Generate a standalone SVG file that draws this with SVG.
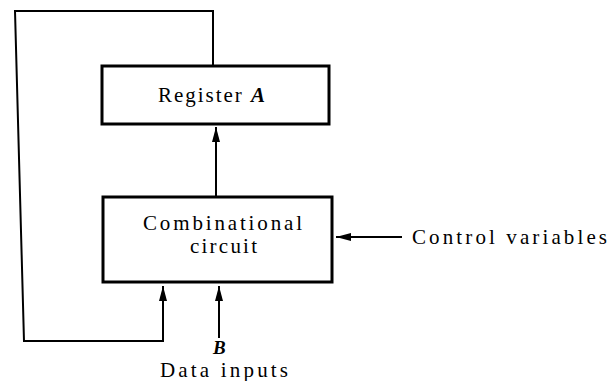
<svg xmlns="http://www.w3.org/2000/svg" width="610" height="381" viewBox="0 0 610 381">
<style>
.box{fill:#fff;stroke:#000;stroke-width:3}
.ln{fill:none;stroke:#000;stroke-width:2}
.t{font-family:"Liberation Serif","Times New Roman",serif;font-size:21px;fill:#000}
.i{font-style:italic;font-weight:bold}
.b{font-size:19px}
</style>
<defs>
<marker id="ah" markerUnits="userSpaceOnUse" markerWidth="16" markerHeight="10" refX="15" refY="4" orient="auto">
<path d="M0,0 L15,4 L0,8 Z" fill="#000"/>
</marker>
</defs>
<rect width="610" height="381" fill="#fff"/>
<g id="connectors">
<path class="ln" d="M213,66 V11 H15 L24,341 H163 V286" marker-end="url(#ah)"/>
<path class="ln" d="M216,197 V127" marker-end="url(#ah)"/>
<path class="ln" d="M219,338 V286" marker-end="url(#ah)"/>
<path class="ln" d="M402,237 H336" marker-end="url(#ah)"/>
</g>
<g id="register">
<rect class="box" x="102" y="66" width="227" height="58"/>
<text class="t" x="158" y="102" textLength="107" lengthAdjust="spacing">Register <tspan class="i">A</tspan></text>
</g>
<g id="combinational">
<rect class="box" x="103" y="197" width="229" height="85"/>
<text class="t" x="143" y="230" textLength="159" lengthAdjust="spacing">Combinational</text>
<text class="t" x="190" y="253" textLength="67" lengthAdjust="spacing">circuit</text>
</g>
<g id="control">
<text class="t" x="412" y="244" textLength="195" lengthAdjust="spacing">Control variables</text>
</g>
<g id="data">
<text class="t i b" x="213" y="354">B</text>
<text class="t" x="160" y="377" textLength="128" lengthAdjust="spacing">Data inputs</text>
</g>
</svg>
